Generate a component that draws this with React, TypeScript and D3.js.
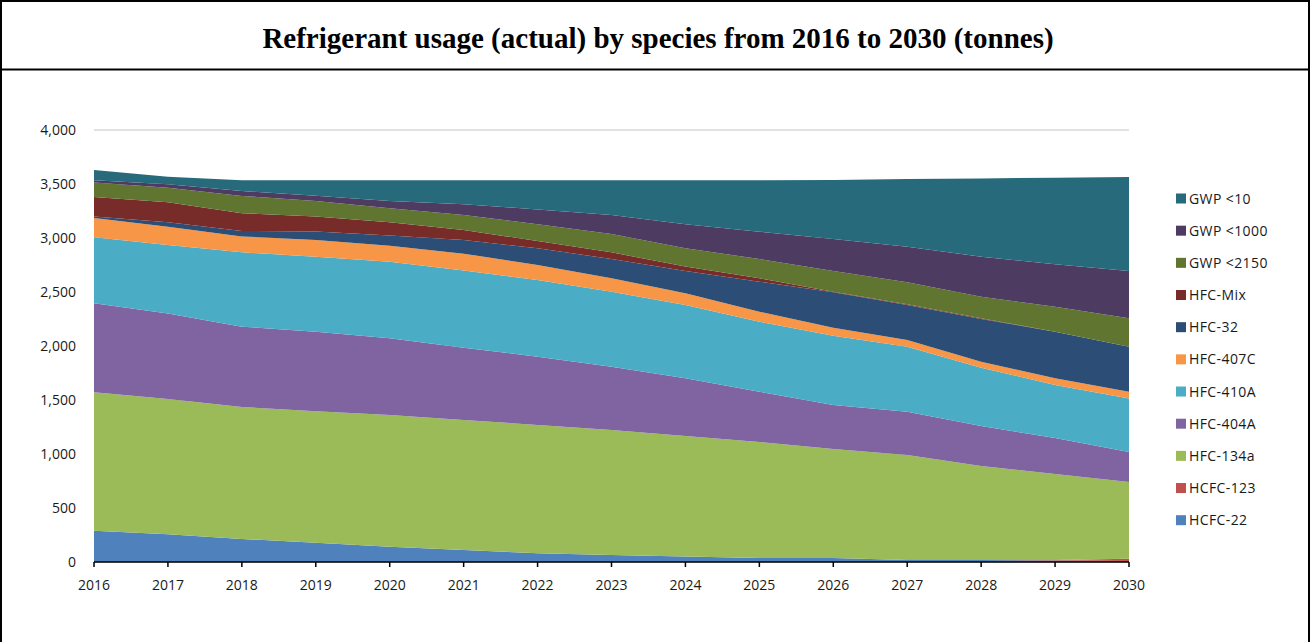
import React from "react";
import * as d3 from "d3";

const years = [2016, 2017, 2018, 2019, 2020, 2021, 2022, 2023, 2024, 2025, 2026, 2027, 2028, 2029, 2030];

// Values (tonnes), one per year
const hcfc22 = [290, 256, 213, 179, 142, 111, 80, 65, 50, 37, 37, 18, 18, 15, 10];
const hcfc123 = [0, 0, 0, 0, 0, 0, 0, 0, 0, 0, 0, 0, 0, 3, 20];
const hfc134a = [1282, 1254, 1222, 1216, 1219, 1204, 1189, 1157, 1117, 1074, 1009, 973, 871, 797, 711];
const hfc404a = [823, 792, 744, 738, 710, 669, 632, 587, 534, 466, 408, 401, 370, 333, 278];
const hfc410a = [611, 633, 688, 694, 710, 716, 710, 694, 679, 648, 642, 602, 540, 491, 496];
const hfc407c = [179, 170, 148, 154, 148, 155, 139, 124, 108, 93, 74, 62, 56, 62, 62];
const hfc32 = [15, 40, 50, 79, 93, 126, 154, 179, 206, 278, 327, 324, 395, 432, 417];
const hfcMix = [180, 185, 165, 138, 123, 93, 68, 61, 41, 31, 6, 6, 6, 0, 0];
const gwp2150 = [135, 136, 160, 145, 130, 139, 155, 170, 169, 179, 191, 204, 201, 231, 262];
const gwp1000 = [20, 31, 45, 49, 68, 99, 138, 176, 223, 253, 297, 330, 370, 392, 438];
const gwp10 = [95, 71, 100, 143, 192, 223, 270, 322, 408, 476, 546, 626, 725, 803, 871];

const seriesNames = ["HCFC-22", "HCFC-123", "HFC-134a", "HFC-404A", "HFC-410A", "HFC-407C", "HFC-32", "HFC-Mix", "GWP <2150", "GWP <1000", "GWP <10"];
const seriesValues = [hcfc22, hcfc123, hfc134a, hfc404a, hfc410a, hfc407c, hfc32, hfcMix, gwp2150, gwp1000, gwp10];
const colors = ["#4F81BD", "#C0504D", "#9BBB59", "#8064A2", "#4BACC6", "#F79646", "#2C4D75", "#772C2A", "#5F7530", "#4D3B62", "#276A7C"];
const yTicks = [0, 500, 1000, 1500, 2000, 2500, 3000, 3500, 4000];

const title = "Refrigerant usage (actual) by species from 2016 to 2030 (tonnes)";

export default function App() {
  const W = 1313;
  const H = 642;
  const x = d3.scaleLinear().domain([2016, 2030]).range([94, 1129]);
  const y = d3.scaleLinear().domain([0, 4000]).range([562, 130]);

  const table = years.map((yr, i) => {
    const row: any = { year: yr };
    seriesNames.forEach((n, k) => (row[n] = seriesValues[k][i]));
    return row;
  });
  const stack = d3.stack<any>().keys(seriesNames)(table);
  const area = d3
    .area<any>()
    .x((d) => x(d.data.year))
    .y0((d) => y(d[0]))
    .y1((d) => y(d[1]));

  const fmt = d3.format(",");
  const legendOrder = [...seriesNames].reverse();
  const font = "'Open Sans', sans-serif";

  return (
    <svg width={W} height={H} style={{ position: "absolute", left: 0, top: 0, background: "#fff" }}>
      <rect x={1} y={1} width={1308} height={H + 10} fill="#fff" stroke="#000" strokeWidth={2} />
      <line x1={0} x2={1310} y1={69.5} y2={69.5} stroke="#000" strokeWidth={2} />
      <text
        x={658}
        y={48}
        textAnchor="middle"
        fontFamily="'Liberation Serif', 'Times New Roman', serif"
        fontWeight="bold"
        fontSize={29}
        fill="#000"
      >
        {title}
      </text>

      {yTicks.map((t) => (
        <line key={"g" + t} x1={x(2016)} x2={x(2030)} y1={y(t)} y2={y(t)} stroke="#d9d9d9" strokeWidth={1.5} />
      ))}

      {stack.map((s, k) => (
        <path key={s.key} d={area(s) || ""} fill={colors[k]} />
      ))}

      <line x1={x(2016)} x2={x(2030)} y1={y(0)} y2={y(0)} stroke="#000" strokeWidth={1.5} />
      {years.map((yr) => (
        <g key={yr}>
          <line x1={x(yr)} x2={x(yr)} y1={y(0)} y2={y(0) + 5} stroke="#000" strokeWidth={1.5} />
          <text x={x(yr)} y={590} textAnchor="middle" fontFamily={font} fontSize={14} fill="#1a1a1a">
            {yr}
          </text>
        </g>
      ))}
      {yTicks.map((t) => (
        <text key={"t" + t} x={76} y={y(t) + 5} textAnchor="end" fontFamily={font} fontSize={14} fill="#1a1a1a">
          {fmt(t)}
        </text>
      ))}

      {legendOrder.map((n, i) => {
        const k = seriesNames.indexOf(n);
        const cy = 198.5 + i * 32.17;
        return (
          <g key={n}>
            <rect x={1176} y={cy - 5} width={10} height={10} fill={colors[k]} />
            <text x={1189} y={cy + 5} fontFamily={font} fontSize={14} letterSpacing={0.4} fill="#1a1a1a">
              {n}
            </text>
          </g>
        );
      })}
    </svg>
  );
}
